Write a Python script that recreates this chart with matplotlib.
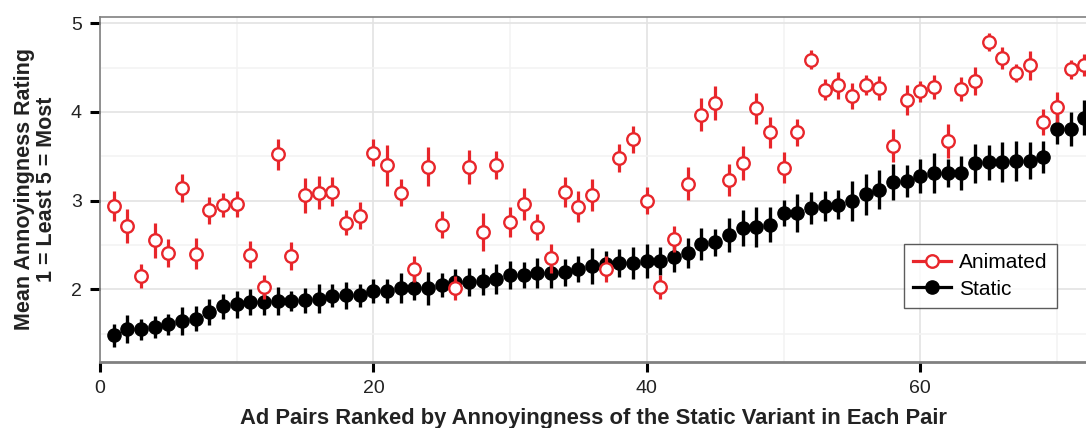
import numpy as np
import matplotlib
matplotlib.use("Agg")
import matplotlib.pyplot as plt
from matplotlib.lines import Line2D

plt.rcParams['font.family'] = ['Liberation Sans', 'DejaVu Sans']

# Ad pair rank (1..72)
pair_rank = np.arange(1, 73)

# Mean rating of the static variant
static_mean = [
    1.48, 1.55, 1.55, 1.575, 1.605, 1.64, 1.67, 1.74, 1.81, 1.83,
    1.86, 1.86, 1.87, 1.87, 1.875, 1.895, 1.925, 1.93, 1.93, 1.98,
    1.98, 2.01, 2.01, 2.01, 2.05, 2.08, 2.08, 2.09, 2.12, 2.16,
    2.165, 2.18, 2.18, 2.19, 2.225, 2.26, 2.29, 2.295, 2.30, 2.32,
    2.32, 2.365, 2.41, 2.515, 2.53, 2.61, 2.69, 2.70, 2.73, 2.86,
    2.86, 2.92, 2.94, 2.955, 3.00, 3.07, 3.12, 3.21, 3.22, 3.28,
    3.31, 3.31, 3.31, 3.42, 3.43, 3.43, 3.45, 3.45, 3.49, 3.81,
    3.81, 3.935,
]
static_err = [
    0.13, 0.155, 0.12, 0.12, 0.12, 0.155, 0.14, 0.145, 0.14, 0.15,
    0.145, 0.15, 0.16, 0.11, 0.14, 0.16, 0.13, 0.155, 0.125, 0.14,
    0.14, 0.17, 0.135, 0.19, 0.135, 0.15, 0.16, 0.155, 0.17, 0.155,
    0.145, 0.17, 0.165, 0.155, 0.145, 0.205, 0.145, 0.16, 0.18, 0.19,
    0.155, 0.17, 0.17, 0.18, 0.155, 0.19, 0.205, 0.225, 0.20, 0.15,
    0.215, 0.18, 0.165, 0.165, 0.225, 0.23, 0.22, 0.205, 0.18, 0.19,
    0.225, 0.16, 0.195, 0.22, 0.20, 0.225, 0.225, 0.205, 0.18, 0.17,
    0.19, 0.20,
]

# Mean rating of the animated variant
animated_mean = [
    2.94, 2.71, 2.15, 2.55, 2.41, 3.14, 2.40, 2.89, 2.95, 2.96,
    2.39, 2.03, 3.52, 2.375, 3.06, 3.09, 3.10, 2.75, 2.83, 3.54,
    3.40, 3.09, 2.23, 3.38, 2.73, 2.015, 3.38, 2.65, 3.40, 2.76,
    2.96, 2.70, 2.35, 3.10, 2.93, 3.06, 2.23, 3.48, 3.69, 3.00,
    2.03, 2.57, 3.19, 3.97, 4.10, 3.23, 3.42, 4.04, 3.77, 3.37,
    3.77, 4.59, 4.25, 4.30, 4.18, 4.30, 4.27, 3.62, 4.13, 4.23,
    4.28, 3.67, 4.26, 4.345, 4.79, 4.61, 4.44, 4.525, 3.885, 4.055,
    4.48, 4.53,
]
animated_err = [
    0.17, 0.19, 0.135, 0.195, 0.155, 0.155, 0.175, 0.155, 0.135, 0.145,
    0.155, 0.135, 0.175, 0.16, 0.195, 0.19, 0.165, 0.14, 0.155, 0.15,
    0.23, 0.15, 0.15, 0.22, 0.155, 0.14, 0.19, 0.215, 0.155, 0.165,
    0.18, 0.15, 0.165, 0.17, 0.175, 0.18, 0.145, 0.16, 0.155, 0.155,
    0.135, 0.145, 0.185, 0.185, 0.19, 0.18, 0.19, 0.175, 0.175, 0.175,
    0.15, 0.105, 0.12, 0.155, 0.145, 0.115, 0.135, 0.19, 0.17, 0.12,
    0.135, 0.19, 0.135, 0.16, 0.105, 0.125, 0.105, 0.165, 0.15, 0.17,
    0.11, 0.125,
]

red = '#e8262b'

fig = plt.figure(figsize=(10.86, 4.28), dpi=100)
ax = fig.add_axes([100 / 1086, 1 - 362 / 428, 987 / 1086, (362 - 17) / 428])

# grid
ax.set_xticks([0, 20, 40, 60])
ax.set_yticks([2, 3, 4, 5])
ax.set_xticks([10, 30, 50, 70], minor=True)
ax.set_yticks([1.5, 2.5, 3.5, 4.5], minor=True)
ax.grid(True, which='major', color='#e3e3e3', linewidth=1.2)
ax.grid(True, which='minor', color='#f3f3f3', linewidth=1.2)
ax.set_axisbelow(True)

ax.errorbar(pair_rank, static_mean, yerr=static_err, fmt='o', color='black',
            markersize=9.5, elinewidth=2.4, capsize=0, zorder=3)
ax.errorbar(pair_rank, animated_mean, yerr=animated_err, fmt='o', color=red,
            mfc='white', mec=red, mew=1.7, markersize=9, elinewidth=2.3,
            capsize=0, zorder=4)

ax.set_xlim(0, 72.2)
ax.set_ylim(1.18, 5.07)

for side in ['left', 'top', 'bottom']:
    ax.spines[side].set_color('#808080')
ax.spines['left'].set_linewidth(1.2)
ax.spines['top'].set_linewidth(1.2)
ax.spines['bottom'].set_linewidth(2.0)
ax.spines['right'].set_visible(False)

ax.tick_params(axis='both', which='major', direction='out', length=7, width=2.2,
               color='black', labelsize=14, labelcolor='#222222', pad=6)
ax.tick_params(axis='both', which='minor', length=0)

ax.set_xlabel('Ad Pairs Ranked by Annoyingness of the Static Variant in Each Pair',
              fontsize=15.8, fontweight='bold', color='#222222', labelpad=8)
ax.set_ylabel('Mean Annoyingness Rating\n1 = Least 5 = Most',
              fontsize=15.5, fontweight='bold', color='#222222', labelpad=10,
              linespacing=1.05)

handles = [
    Line2D([], [], color=red, marker='o', mfc='white', mec=red, mew=1.7,
           markersize=9, linewidth=2.3),
    Line2D([], [], color='black', marker='o', markersize=9.5, linewidth=2.3),
]
leg = ax.legend(handles, ['Animated', 'Static'], loc='lower left',
                bbox_to_anchor=(0.8146, 0.1565), fontsize=15, frameon=True,
                fancybox=False, handlelength=1.8, handletextpad=0.4,
                borderpad=0.45, labelspacing=0.35, borderaxespad=0)
leg.get_frame().set_edgecolor('#333333')
leg.get_frame().set_linewidth(1.0)

fig.savefig('out.png', dpi=100)
